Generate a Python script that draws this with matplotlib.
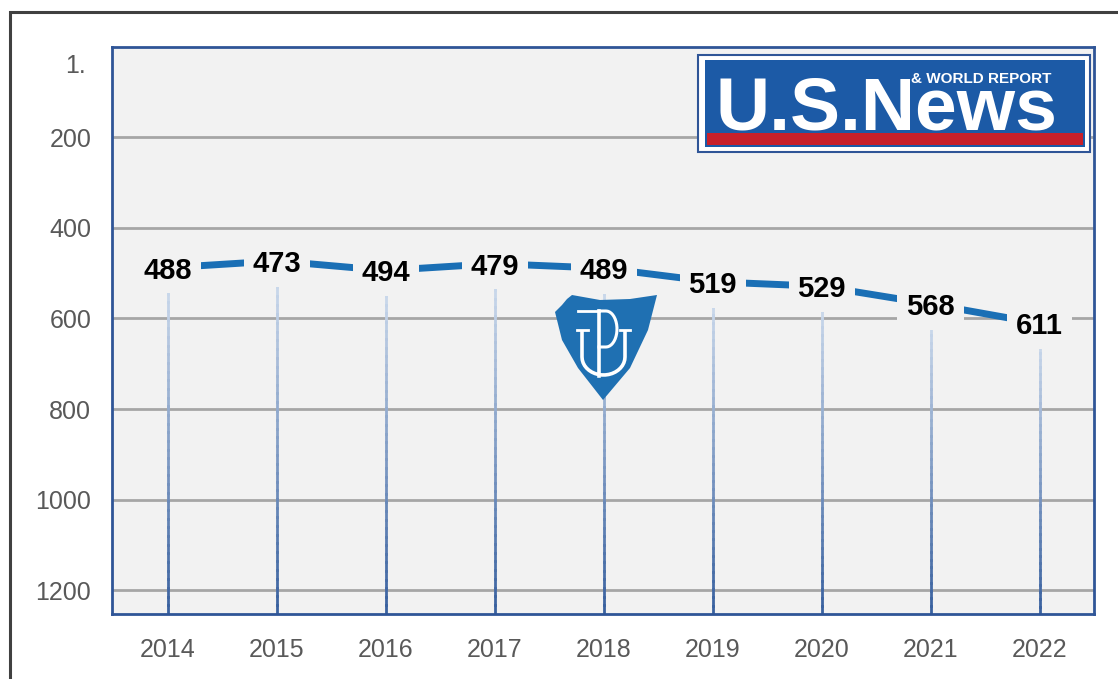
import matplotlib.pyplot as plt
import numpy as np
from matplotlib.collections import LineCollection
from matplotlib.patches import Rectangle, Polygon
from matplotlib.lines import Line2D
import matplotlib.colors as mcolors

years = [2014, 2015, 2016, 2017, 2018, 2019, 2020, 2021, 2022]
ranks = [488, 473, 494, 479, 489, 519, 529, 568, 611]
yticks = [200, 400, 600, 800, 1000, 1200]

W, H = 1118, 679
fig = plt.figure(figsize=(W / 100, H / 100), dpi=100)


def px(x, y):
    # pixel coords of the picture -> figure fraction
    return (x / W, 1 - y / H)


def fig_line(pts, **kw):
    xs, ys = zip(*[px(x, y) for x, y in pts])
    fig.add_artist(Line2D(xs, ys, transform=fig.transFigure, **kw))


# outer frame of the screenshot
fig.add_artist(Rectangle(px(10, 700), 1.2, (700 - 12) / H, transform=fig.transFigure,
                         fill=False, ec='#404040', lw=2.2))

ax = fig.add_axes([112 / W, 1 - 614 / H, (1094 - 112) / W, (614 - 47) / H])
ax.set_facecolor('#f2f2f2')
for s in ax.spines.values():
    s.set_color('#2f5597')
    s.set_linewidth(2)

ax.set_xlim(2013.49, 2022.5)
ax.set_ylim(1252, 1)
ax.set_yticks(yticks)
ax.set_xticks(years)
ax.tick_params(length=0, labelsize=18, labelcolor='#595959', pad=17)
ax.tick_params(axis='y', pad=15)
for lab in ax.get_xticklabels() + ax.get_yticklabels():
    lab.set_family('Liberation Sans')
ax.text(-0.027, 43, '1.', transform=ax.get_yaxis_transform(), ha='right', va='center',
        fontsize=18, color='#595959', family='Liberation Sans')
ax.grid(axis='y', color='#a6a6a6', lw=2)
ax.set_axisbelow(True)

# drop lines with a light-to-dark gradient
cmap = mcolors.LinearSegmentedColormap.from_list('drop', ['#d3e0f0', '#3a62a0'])
segs, cols = [], []
n = 40
for x, r in zip(years, ranks):
    ys = np.linspace(r, 1252, n + 1)
    for i in range(n):
        segs.append([(x, ys[i]), (x, ys[i + 1])])
        cols.append(cmap(i / (n - 1)))
ax.add_collection(LineCollection(segs, colors=cols, linewidths=2, capstyle='projecting',
                                 zorder=2))

ax.plot(years, ranks, color='#1a6fb5', lw=5, solid_capstyle='butt', zorder=3)
for x, r in zip(years, ranks):
    ax.text(x, r, str(r), ha='center', va='center_baseline', fontsize=21, fontweight='bold',
            family='Liberation Sans', color='black', zorder=4,
            bbox=dict(boxstyle='square,pad=0.3', fc='#f2f2f2', ec='none'))

# US News logo
fig.add_artist(Rectangle(px(698, 152), 392 / W, 97 / H, transform=fig.transFigure,
                         fc='white', ec='#2f5597', lw=1.5, zorder=5))
fig.add_artist(Rectangle(px(705, 147), 380 / W, 87 / H, transform=fig.transFigure,
                         fc='#1c5aa6', ec='none', zorder=6))
fig.add_artist(Rectangle(px(707, 145), 376 / W, 12 / H, transform=fig.transFigure,
                         fc='#c8202a', ec='none', zorder=7))
fig.text(*px(716, 129), 'U.S.News', ha='left', va='baseline', fontsize=54,
         fontweight='bold', family='Liberation Sans', color='white', zorder=8)
fig.text(*px(981, 79), '& WORLD REPORT', ha='center', va='center', fontsize=11,
         fontweight='bold', family='Liberation Sans', color='white', zorder=8)

# university shield
shield = [(555, 312), (562, 305), (567, 299), (572, 295), (600, 300), (630, 299),
          (657, 295), (648, 330), (630, 368), (603, 400), (578, 368), (562, 340)]
fig.add_artist(Polygon([px(x, y) for x, y in shield], closed=True,
                       transform=fig.transFigure, fc='#1f70b2', ec='none', zorder=5))
t = np.linspace(np.pi, 2 * np.pi, 20)
u = [(582, 330)] + [(603.5 + 21.5 * np.cos(a), 357 - 18 * np.sin(a)) for a in t] + [(625, 330)]
fig_line(u, color='white', lw=2.6, zorder=6, solid_capstyle='butt')
fig_line([(577, 330), (588, 330)], color='white', lw=2, zorder=6)
fig_line([(620, 330), (630, 330)], color='white', lw=2, zorder=6)
fig_line([(599, 311), (599, 376)], color='white', lw=2.6, zorder=6)
fig_line([(578, 311), (599, 311)], color='white', lw=2, zorder=6)
tb = np.linspace(np.pi / 2, -np.pi / 2, 20)
bowl = [(599, 311)] + [(606 + 11 * np.cos(a), 329 - 18 * np.sin(a)) for a in tb] + [(599, 347)]
fig_line(bowl, color='white', lw=2.2, zorder=6)

fig.savefig('out.png', dpi=100)
